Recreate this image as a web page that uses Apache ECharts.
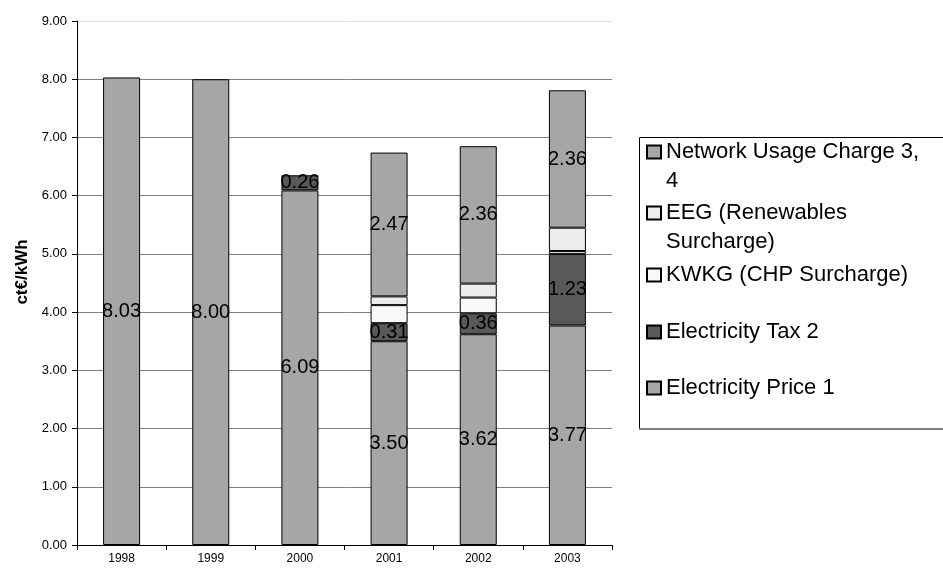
<!DOCTYPE html>
<html>
<head>
<meta charset="utf-8">
<title>Electricity price components, ct€/kWh</title>
<script src="https://cdn.jsdelivr.net/npm/echarts@6/dist/echarts.min.js"></script>
<style>
  html, body { margin: 0; padding: 0; background: #ffffff; }
  #chart { width: 943px; height: 570px; }
</style>
</head>
<body>
<div id="chart"></div>
<script>
// Years on the category axis
const years = ['1998', '1999', '2000', '2001', '2002', '2003'];

// Price components in ct€/kWh, stacked bottom to top
const electricityPrice = [8.03, 8.00, 6.09, 3.50, 3.62, 3.77];
const electricityTax   = [null, null, 0.26, 0.31, 0.36, 1.23];
const kwkgSurcharge    = [null, null, null, 0.31, 0.27, 0.05];
const eegSurcharge     = [null, null, null, 0.15, 0.24, 0.40];
const networkCharge    = [null, null, null, 2.47, 2.36, 2.36];

// Value-axis ticks
const yTicks = [0, 1, 2, 3, 4, 5, 6, 7, 8, 9];

const FONT = '"Liberation Sans", Arial, sans-serif';
const chart = echarts.init(document.getElementById('chart'), null, { renderer: 'canvas' });

const labelStyle = {
  show: true,
  position: 'inside',
  color: '#000',
  fontFamily: FONT,
  fontSize: 20,
  formatter: p => (p.value == null ? '' : Number(p.value).toFixed(2))
};

function barSeries(name, data, color, withLabel) {
  return {
    name: name,
    type: 'bar',
    stack: 'total',
    data: data,
    barWidth: 37,
    itemStyle: { color: color, borderColor: '#000', borderWidth: 1 },
    label: withLabel ? labelStyle : { show: false },
    emphasis: { disabled: true },
    animation: false
  };
}

// One legend block per entry so each row sits where the framed key puts it.
// Wrapped entries get a leading blank line so their first line lines up
// with the swatch (legend text is centred on the swatch).
const LINE = 29;
function legendEntry(name, lines, centerY) {
  const text = lines.length > 1 ? '\n' + lines.join('\n') : lines[0];
  const extra = lines.length > 1 ? LINE : 0;
  return {
    data: [name],
    left: 646,
    top: centerY - LINE / 2 - extra,
    orient: 'vertical',
    padding: 0,
    itemWidth: 14,
    itemHeight: 13,
    icon: 'rect',
    selectedMode: false,
    formatter: () => text,
    textStyle: {
      color: '#000',
      fontFamily: FONT,
      fontSize: 22,
      lineHeight: LINE
    }
  };
}

chart.setOption({
  backgroundColor: '#ffffff',
  animation: false,
  grid: { left: 77, right: 331, top: 21, bottom: 25, containLabel: false },
  legend: [
    legendEntry('Network Usage Charge 3, 4', ['Network Usage Charge 3,', '4'], 152),
    legendEntry('EEG (Renewables Surcharge)', ['EEG (Renewables', 'Surcharge)'], 213),
    legendEntry('KWKG (CHP Surcharge)', ['KWKG (CHP Surcharge)'], 275),
    legendEntry('Electricity Tax 2', ['Electricity Tax 2'], 332),
    legendEntry('Electricity Price 1', ['Electricity Price 1'], 388)
  ],
  xAxis: {
    type: 'category',
    data: years,
    axisLine: { show: true, lineStyle: { color: '#000', width: 1 } },
    axisTick: { show: true, alignWithLabel: false, length: 5, lineStyle: { color: '#000' } },
    axisLabel: { color: '#000', fontFamily: FONT, fontSize: 12, margin: 8 },
    splitLine: { show: false }
  },
  yAxis: {
    type: 'value',
    min: yTicks[0],
    max: yTicks[yTicks.length - 1],
    interval: 1,
    name: 'ct€/kWh',
    nameLocation: 'middle',
    nameGap: 46,
    nameRotate: 90,
    nameTextStyle: {
      color: '#000',
      fontFamily: FONT,
      fontSize: 17,
      fontWeight: 'bold',
      padding: [0, 0, 0, 22]
    },
    axisLine: { show: true, lineStyle: { color: '#000', width: 1 } },
    axisTick: { show: true, length: 5, lineStyle: { color: '#000' } },
    axisLabel: {
      color: '#000',
      fontFamily: FONT,
      fontSize: 13,
      margin: 10,
      formatter: v => Number(v).toFixed(2)
    },
    splitLine: {
      show: true,
      lineStyle: {
        width: 1,
        color: ['#808080', '#808080', '#808080', '#808080', '#808080',
                '#808080', '#808080', '#808080', '#808080', '#e0e0e0']
      }
    }
  },
  graphic: [
    {
      type: 'rect',
      silent: true,
      z: -1,
      shape: { x: 639.5, y: 137.5, width: 310, height: 291 },
      style: { fill: 'none', stroke: '#000', lineWidth: 1 }
    },
    {
      type: 'line',
      silent: true,
      shape: { x1: 639, y1: 429, x2: 943, y2: 429 },
      style: { stroke: '#808080', lineWidth: 2 }
    }
  ],
  series: [
    barSeries('Electricity Price 1', electricityPrice, '#a6a6a6', true),
    barSeries('Electricity Tax 2', electricityTax, '#595959', true),
    barSeries('KWKG (CHP Surcharge)', kwkgSurcharge, '#f8f8f8', false),
    barSeries('EEG (Renewables Surcharge)', eegSurcharge, '#ececec', false),
    barSeries('Network Usage Charge 3, 4', networkCharge, '#a6a6a6', true)
  ]
});
</script>
</body>
</html>
